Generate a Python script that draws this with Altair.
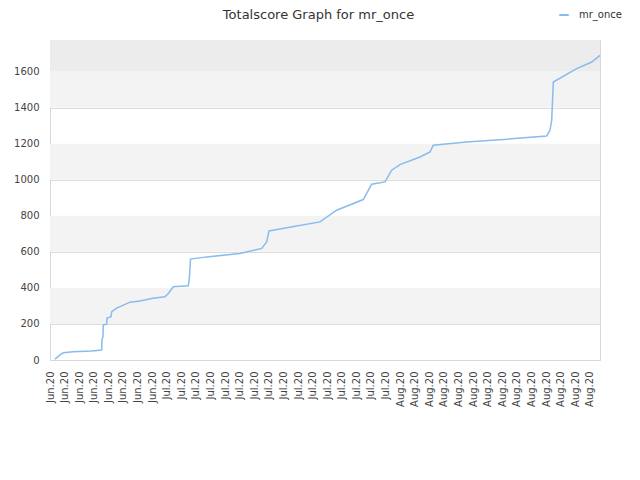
import altair as alt
import pandas as pd

title_text = "Totalscore Graph for mr_once"

# x tick labels (one per tick index)
tick_labels = ["Jun.20"] * 8 + ["Jul.20"] * 16 + ["Aug.20"] * 14

# series (x in tick-index units, y = total score)
xs = [0.34, 0.69, 0.91, 1.58, 2.86, 3.54, 3.56, 3.63, 3.65, 3.89, 3.91, 4.18, 4.23,
      4.57, 5.48, 6.17, 7.06, 7.88, 8.11, 8.45, 9.48, 9.56, 9.63, 10.74, 13.02,
      14.51, 14.85, 15.01, 16.22, 18.51, 19.65, 21.47, 22.05, 22.96, 23.42, 23.99,
      25.36, 26.05, 26.27, 28.56, 30.84, 34.04, 34.27, 34.39, 34.50, 36.10, 37.13, 37.70]
ys = [5, 28, 40, 46, 50, 55, 111, 130, 194, 200, 233, 240, 268,
      288, 321, 327, 342, 351, 369, 406, 412, 460, 560, 572, 591,
      619, 655, 716, 733, 766, 831, 890, 975, 988, 1053, 1084,
      1126, 1154, 1191, 1209, 1222, 1243, 1274, 1330, 1542, 1616, 1653, 1690]
series_name = "mr_once"

# background bands
band_lo = [200, 600, 1000, 1400, 1600]
band_hi = [400, 800, 1200, 1600, 1775]

y_ticks = [0, 200, 400, 600, 800, 1000, 1200, 1400, 1600]
y_max = 1775
x_max = 37.70

FONT = "DejaVu Sans"

df = pd.DataFrame({"x": xs, "y": ys, "series": [series_name] * len(xs)})
bands = pd.DataFrame({"lo": band_lo, "hi": band_hi})

label_arr = "[" + ",".join("'%s'" % l for l in tick_labels) + "]"

xscale = alt.Scale(domain=[0, x_max], nice=False, zero=False)
yscale = alt.Scale(domain=[0, y_max], nice=False)

y_axis = alt.Axis(values=y_ticks, ticks=False, grid=True, gridColor="#dddddd",
                  domainColor="#d8d8d8", labelColor="#444", labelFontSize=10,
                  labelFont=FONT, labelPadding=11, title=None, format="d")

band_layer = alt.Chart(bands).mark_rect().encode(
    x=alt.value(0),
    x2=alt.value(550),
    y=alt.Y("lo:Q", scale=yscale, axis=y_axis, title=None),
    y2="hi:Q",
    color=alt.condition(alt.datum.lo >= 1600, alt.value("#ececec"), alt.value("#f3f3f3")),
)

line_layer = alt.Chart(df).mark_line(strokeWidth=1.5, interpolate="linear").encode(
    x=alt.X("x:Q", scale=xscale, title=None,
            axis=alt.Axis(values=list(range(len(tick_labels))),
                          labelExpr=label_arr + "[datum.value]",
                          labelAngle=-90, labelAlign="right", labelBaseline="middle",
                          labelPadding=11, ticks=False, grid=False,
                          domainColor="#d8d8d8", labelColor="#444",
                          labelFontSize=10, labelFont=FONT,
                          labelOverlap=False, labelFlush=False)),
    y=alt.Y("y:Q", scale=yscale, title=None, axis=y_axis),
    color=alt.Color("series:N", scale=alt.Scale(range=["#88bbee"]),
                    legend=alt.Legend(title=None, orient="none", legendX=508, legendY=-31,
                                      symbolType="stroke", symbolSize=90,
                                      symbolStrokeWidth=2, labelFontSize=10,
                                      labelFont=FONT,
                                      labelColor="#333", labelOffset=9)),
    order="x:Q",
)

title_layer = alt.Chart(pd.DataFrame({"t": [title_text]})).mark_text(
    font=FONT, fontSize=13, color="#333", align="center", baseline="alphabetic"
).encode(text="t:N", x=alt.value(268.5), y=alt.value(-21.5))

chart = alt.layer(band_layer, line_layer, title_layer).properties(
    width=550,
    height=320,
    autosize=alt.AutoSizeParams(type="none"),
    padding={"left": 42, "top": 32, "right": 32, "bottom": 112},
).configure(font=FONT).configure_view(stroke="#d8d8d8")

chart.save("out.html", embed_options={"renderer": "svg", "actions": False})
